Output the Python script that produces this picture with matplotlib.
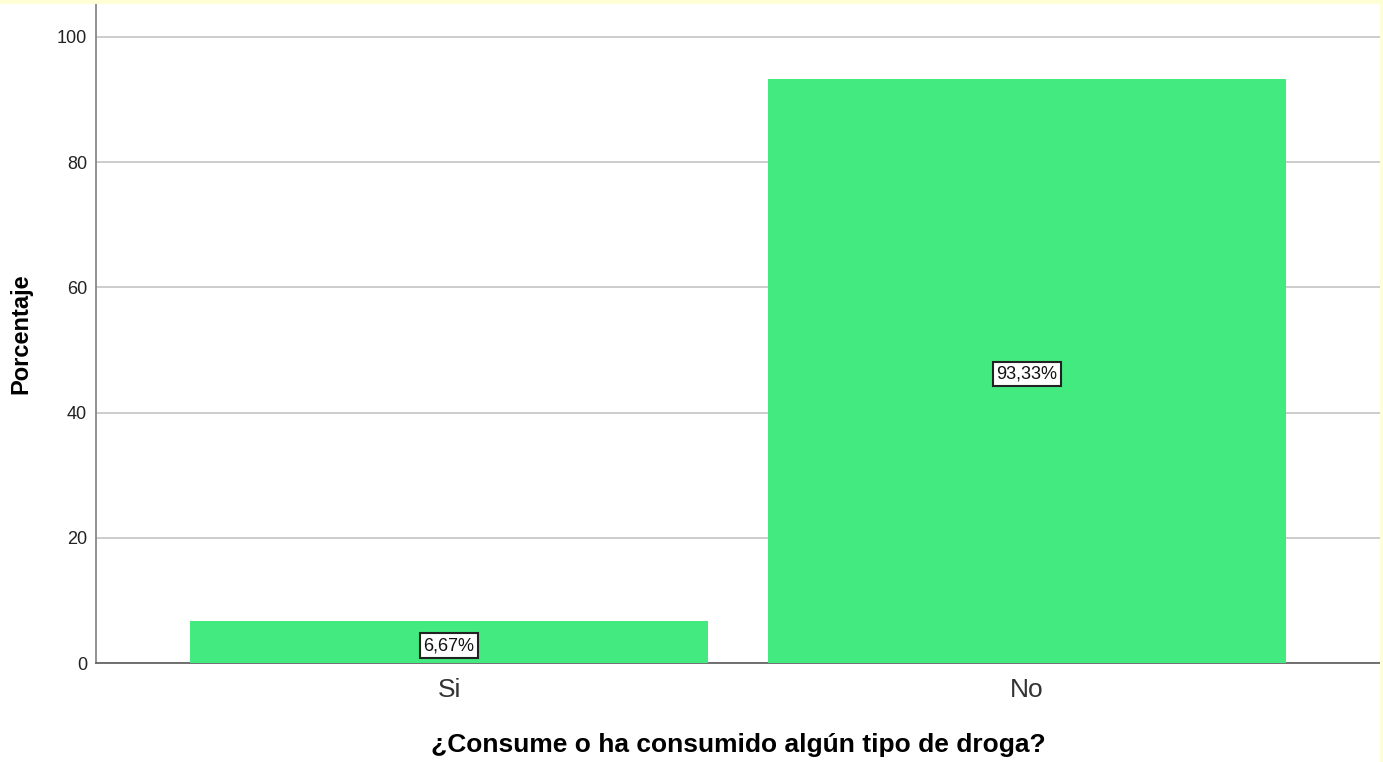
import matplotlib
matplotlib.use("Agg")
import matplotlib.pyplot as plt
from matplotlib.patches import Rectangle

categories = ["Si", "No"]
values = [6.67, 93.33]
labels = ["6,67%", "93,33%"]
yticks = [0, 20, 40, 60, 80, 100]

plt.rcParams['font.family'] = ['Liberation Sans', 'DejaVu Sans']

fig = plt.figure(figsize=(13.83, 7.62), dpi=100)
fig.patch.set_facecolor('white')
ax = fig.add_axes([0.0694, 0.1299, 0.9284, 0.8635])
x = list(range(len(categories)))
ax.bar(x, values, width=0.896, color='#42EA7F', zorder=3)
ax.set_xlim(-0.611, 1.611)
ax.set_ylim(0, 105.1)
ax.set_yticks(yticks)
ax.set_yticklabels([str(t) for t in yticks], fontsize=13, color='#222222')
ax.set_xticks(x)
ax.set_xticklabels(categories, fontsize=19, color='#333333')
ax.tick_params(axis='y', length=0, pad=6.5)
ax.tick_params(axis='x', length=0, pad=10.5)
ax.yaxis.grid(True, color='#C8C8C8', linewidth=1.3, zorder=0)
ax.set_axisbelow(True)
for s in ['top', 'right']:
    ax.spines[s].set_visible(False)
ax.spines['left'].set_color('#888888')
ax.spines['left'].set_linewidth(1.3)
ax.spines['bottom'].set_color('#666666')
ax.spines['bottom'].set_linewidth(1.3)

for xi, v, lab in zip(x, values, labels):
    ax.annotate(lab, xy=(xi, v / 2), xytext=(0, -2.5), textcoords='offset points',
                ha='center', va='center', fontsize=13, zorder=5, color='#111111',
                bbox=dict(boxstyle='square,pad=0.2', facecolor='white', edgecolor='#222222', linewidth=1.5))

ax.set_ylabel("Porcentaje", fontsize=17, fontweight='bold')
ax.yaxis.set_label_coords(-0.0584, 0.5)
ax.yaxis.label.set_va('center')
ax.set_xlabel("¿Consume o ha consumido algún tipo de droga?", fontsize=19, fontweight='bold')
ax.xaxis.set_label_coords(0.5, -0.1246)
ax.xaxis.label.set_va('center')

# yellowish frame edges
fig.patches.append(Rectangle((0, 1 - 4/762), 1, 4/762, transform=fig.transFigure, facecolor='#FFFFD6', edgecolor='none', zorder=10))
fig.patches.append(Rectangle((1 - 3/1383, 0), 3/1383, 1, transform=fig.transFigure, facecolor='#FFFFD6', edgecolor='none', zorder=10))

fig.savefig("out.png", dpi=100, facecolor='white')
